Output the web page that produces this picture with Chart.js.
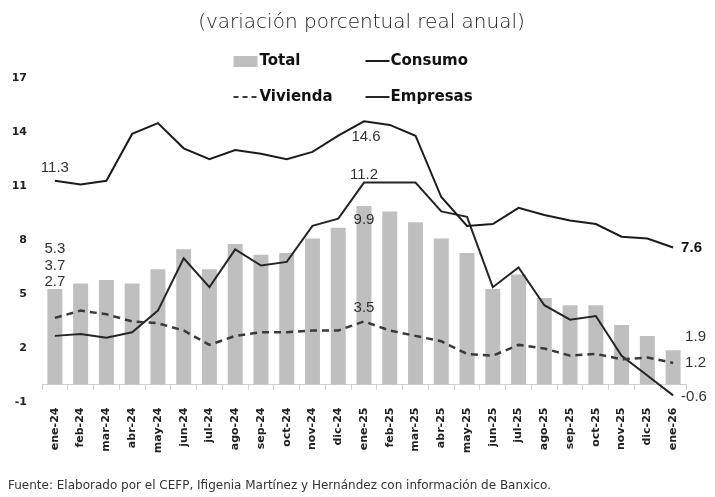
<!DOCTYPE html>
<html>
<head>
<meta charset="utf-8">
<script src="https://cdn.jsdelivr.net/npm/chart.js@4.4.1/dist/chart.umd.min.js"></script>
<style>
  html, body { margin: 0; padding: 0; background: #ffffff; }
  #wrap { width: 715px; height: 497px; }
</style>
</head>
<body>
<div id="wrap"><canvas id="c" width="715" height="497"></canvas></div>
<script>
// ---- Data ----
const categories = ['ene-24','feb-24','mar-24','abr-24','may-24','jun-24','jul-24','ago-24','sep-24','oct-24','nov-24','dic-24',
                    'ene-25','feb-25','mar-25','abr-25','may-25','jun-25','jul-25','ago-25','sep-25','oct-25','nov-25','dic-25','ene-26'];
const total    = [5.3, 5.6, 5.8, 5.6, 6.4, 7.5, 6.4, 7.8, 7.2, 7.3, 8.1, 8.7, 9.9, 9.6, 9.0, 8.1, 7.3, 5.3, 6.1, 4.8, 4.4, 4.4, 3.3, 2.7, 1.9];
const consumo  = [11.3, 11.1, 11.3, 13.9, 14.5, 13.1, 12.5, 13.0, 12.8, 12.5, 12.9, 13.8, 14.6, 14.4, 13.8, 10.4, 8.8, 8.9, 9.8, 9.4, 9.1, 8.9, 8.2, 8.1, 7.6];
const vivienda = [3.7, 4.1, 3.9, 3.5, 3.4, 3.0, 2.2, 2.7, 2.9, 2.9, 3.0, 3.0, 3.5, 3.0, 2.7, 2.4, 1.7, 1.6, 2.2, 2.0, 1.6, 1.7, 1.4, 1.5, 1.2];
const empresas = [2.7, 2.8, 2.6, 2.9, 4.1, 7.0, 5.4, 7.5, 6.6, 6.8, 8.8, 9.2, 11.2, 11.2, 11.2, 9.6, 9.3, 5.4, 6.5, 4.4, 3.6, 3.8, 1.6, 0.5, -0.6];
const yTicks   = [-1, 2, 5, 8, 11, 14, 17];

const titleText  = '(variación porcentual real anual)';
const sourceText = 'Fuente: Elaborado por el CEFP, Ifigenia Martínez y Hernández con información de Banxico.';

// ---- Value labels (which points are annotated, and where) ----
const valueLabels = [
  { series: consumo,  i: 0,  anchor: consumo,  dx: 0,  dy: -13, align: 'center' },
  { series: total,    i: 0,  anchor: total,    dx: 0,  dy: -40, align: 'center' },
  { series: vivienda, i: 0,  anchor: total,    dx: 0,  dy: -23, align: 'center' },
  { series: empresas, i: 0,  anchor: total,    dx: 0,  dy: -7,  align: 'center' },
  { series: consumo,  i: 12, anchor: consumo,  dx: 2,  dy: 16,  align: 'center' },
  { series: empresas, i: 12, anchor: empresas, dx: 0,  dy: -8,  align: 'center' },
  { series: total,    i: 12, anchor: total,    dx: 0,  dy: 14,  align: 'center' },
  { series: vivienda, i: 12, anchor: vivienda, dx: 0,  dy: -14, align: 'center' },
  { series: consumo,  i: 24, anchor: consumo,  dx: 8,  dy: 0,   align: 'left', bold: true },
  { series: total,    i: 24, anchor: total,    dx: 12, dy: -13, align: 'left' },
  { series: vivienda, i: 24, anchor: vivienda, dx: 12, dy: 0,   align: 'left' },
  { series: empresas, i: 24, anchor: empresas, dx: 8,  dy: 1,   align: 'left' }
];

const labelPlugin = {
  id: 'valueLabels',
  afterDatasetsDraw(chart) {
    const ctx = chart.ctx, xs = chart.scales.x, ys = chart.scales.y;
    ctx.save();
    ctx.textBaseline = 'middle';
    valueLabels.forEach(l => {
      const x = xs.getPixelForValue(l.i) + l.dx;
      const y = ys.getPixelForValue(l.anchor[l.i]) + l.dy;
      ctx.font = (l.bold ? 'bold ' : '') + '15px "Liberation Sans Narrow", "Liberation Sans", Arial, sans-serif';
      ctx.fillStyle = l.bold ? '#111' : '#333';
      ctx.textAlign = l.align;
      ctx.fillText(l.series[l.i].toFixed(1), x, y);
    });
    ctx.restore();
  }
};

const legendPlugin = {
  id: 'gridLegend',
  afterDraw(chart) {
    const ctx = chart.ctx;
    const cx = chart.width / 2;
    const ds = chart.data.datasets;
    const col1 = cx - 124, col2 = cx + 8;
    const row1 = 61, row2 = 97;
    ctx.save();
    ctx.font = 'bold 15px "DejaVu Sans", sans-serif';
    ctx.fillStyle = '#111';
    ctx.textBaseline = 'middle';
    ctx.textAlign = 'left';
    // Total (box)
    ctx.fillStyle = ds[0].backgroundColor;
    ctx.fillRect(col1, row1 - 5, 24, 11);
    ctx.fillStyle = '#111';
    ctx.fillText(ds[0].label, col1 + 26, row1);
    // Consumo (line)
    ctx.strokeStyle = ds[1].borderColor; ctx.lineWidth = 2;
    ctx.beginPath(); ctx.moveTo(col2, row1); ctx.lineTo(col2 + 24, row1); ctx.stroke();
    ctx.fillText(ds[1].label, col2 + 25, row1);
    // Vivienda (dashed)
    ctx.strokeStyle = ds[2].borderColor; ctx.lineWidth = 2;
    ctx.setLineDash([5, 4]);
    ctx.beginPath(); ctx.moveTo(col1, row2); ctx.lineTo(col1 + 24, row2); ctx.stroke();
    ctx.setLineDash([]);
    ctx.fillText(ds[2].label, col1 + 26, row2);
    // Empresas (line)
    ctx.strokeStyle = ds[3].borderColor; ctx.lineWidth = 2;
    ctx.beginPath(); ctx.moveTo(col2, row2); ctx.lineTo(col2 + 24, row2); ctx.stroke();
    ctx.fillText(ds[3].label, col2 + 25, row2);
    ctx.restore();
  }
};

new Chart(document.getElementById('c').getContext('2d'), {
  type: 'bar',
  data: {
    labels: categories,
    datasets: [
      { type: 'bar', label: 'Total', data: total, backgroundColor: '#bfbfbf',
        categoryPercentage: 1, barPercentage: 0.58, order: 5 },
      { type: 'line', label: 'Consumo', data: consumo, borderColor: '#1c1c1c', borderWidth: 2,
        pointRadius: 0, tension: 0, fill: false, order: 1 },
      { type: 'line', label: 'Vivienda', data: vivienda, borderColor: '#3a3a3a', borderWidth: 2.5,
        borderDash: [7, 5], pointRadius: 0, tension: 0, fill: false, order: 2 },
      { type: 'line', label: 'Empresas', data: empresas, borderColor: '#262626', borderWidth: 2,
        pointRadius: 0, tension: 0, fill: false, order: 3 }
    ]
  },
  options: {
    responsive: false,
    animation: false,
    devicePixelRatio: 1,
    layout: { padding: { left: 8, right: 0, top: 0, bottom: 0 } },
    plugins: {
      legend: { display: false },
      tooltip: { enabled: false },
      title: {
        display: true, text: titleText, color: '#1a1a1a',
        font: { family: '"DejaVu Sans", sans-serif', size: 20, weight: 200 },
        padding: { top: 11, bottom: 43 }
      },
      subtitle: {
        display: true, position: 'bottom', align: 'start', text: sourceText, color: '#333',
        font: { family: '"DejaVu Sans", sans-serif', size: 12 },
        padding: { top: 76, bottom: 4 }
      }
    },
    scales: {
      x: {
        position: { y: 0 },
        offset: true,
        grid: { display: true, drawOnChartArea: false, drawTicks: true, tickLength: 5, color: '#d0d0d0', offset: true },
        border: { display: true, color: '#d0d0d0', width: 1 },
        ticks: {
          autoSkip: false, minRotation: 90, maxRotation: 90, padding: 18, color: '#222',
          font: { family: '"DejaVu Sans", sans-serif', weight: 'bold', size: 11 }
        }
      },
      y: {
        position: 'left', min: -1, max: 17,
        afterBuildTicks: s => { s.ticks = yTicks.map(v => ({ value: v })); },
        afterFit: s => { s.width = 34; },
        grid: { display: false, drawTicks: false },
        border: { display: false },
        ticks: { padding: 15, color: '#222', font: { family: '"DejaVu Sans", sans-serif', weight: 'bold', size: 11 } }
      },
      y2: {
        position: 'right', display: true,
        afterFit: s => { s.width = 29; },
        grid: { display: false, drawTicks: false }, border: { display: false }, ticks: { display: false }
      }
    }
  },
  plugins: [labelPlugin, legendPlugin]
});
</script>
</body>
</html>
